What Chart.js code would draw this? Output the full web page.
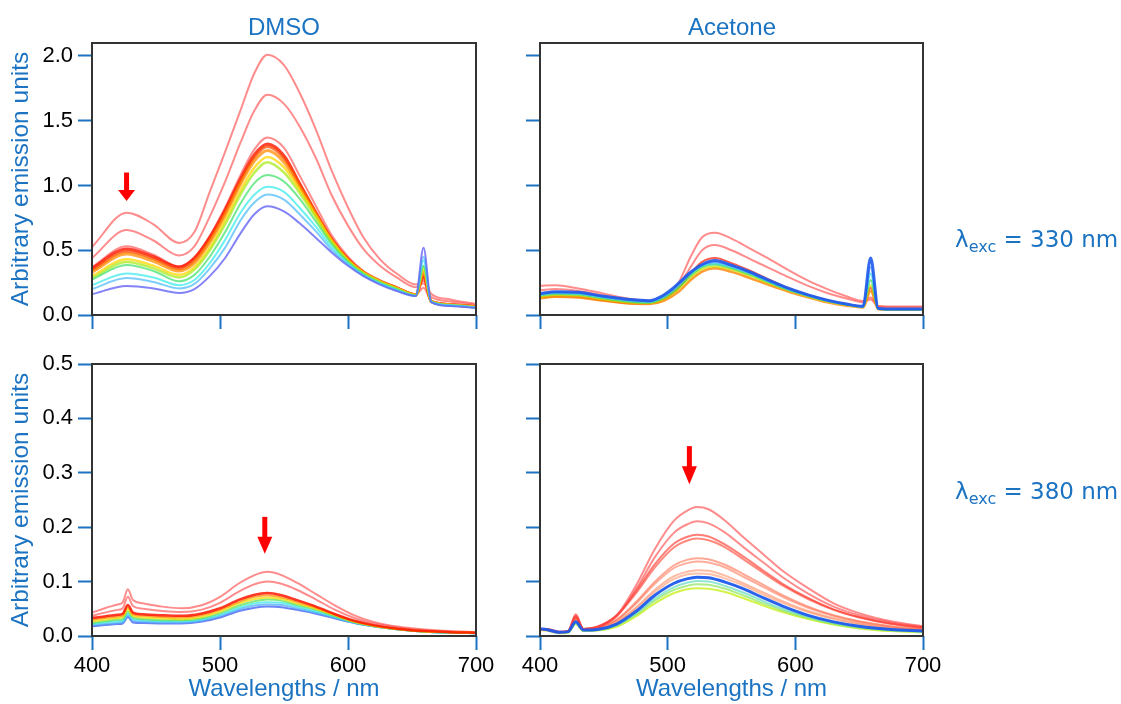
<!DOCTYPE html>
<html>
<head>
<meta charset="utf-8">
<script src="https://cdn.jsdelivr.net/npm/chart.js@4.4.1/dist/chart.umd.min.js"></script>
<style>
  body { margin: 0; background: #fff; }
  #page { position: relative; width: 1121px; height: 704px; overflow: hidden; font-family: "Liberation Sans", Arial, sans-serif; }
  #page canvas { position: absolute; left: 0; top: 0; }
  .head { position: absolute; color: #1b73c2; font-size: 24px; line-height: 1; transform: translate(-50%, -50%); white-space: nowrap; }
  .exc { position: absolute; color: #1b73c2; font-family: "DejaVu Sans", sans-serif; font-size: 23px; line-height: 1; transform: translateY(-50%); white-space: nowrap; }
  .exc sub { font-size: 16px; vertical-align: -5px; }
</style>
</head>
<body>
<div id="page">
  <canvas id="tl" width="1121" height="704"></canvas>
  <canvas id="tr" width="1121" height="704"></canvas>
  <canvas id="bl" width="1121" height="704"></canvas>
  <canvas id="br" width="1121" height="704"></canvas>
  <div class="head" style="left:284px; top:27px">DMSO</div>
  <div class="head" style="left:732px; top:27px">Acetone</div>
  <div class="exc" style="left:955px; top:241px">λ<sub>exc</sub> = 330 nm</div>
  <div class="exc" style="left:955px; top:493px">λ<sub>exc</sub> = 380 nm</div>
</div>
<script>
// axes
const xTicks = [400, 500, 600, 700];
const yTicks330 = [0, 0.5, 1.0, 1.5, 2.0];
const yTicks380 = [0, 0.1, 0.2, 0.3, 0.4, 0.5];

// DMSO, excitation 330 nm
const wlDmso330 = [400, 427, 448, 468, 480, 492, 504, 516, 527, 537, 550, 562, 575, 587, 600, 612, 625, 638, 653, 659, 665, 680, 700];
const dmso330_a = [0.525, 0.79, 0.70, 0.556, 0.64, 0.95, 1.26, 1.58, 1.87, 2.01, 1.93, 1.72, 1.43, 1.12, 0.83, 0.60, 0.43, 0.32, 0.235, 0.265, 0.165, 0.12, 0.085];
const dmso330_b = [0.44, 0.656, 0.575, 0.46, 0.53, 0.76, 1.03, 1.33, 1.58, 1.70, 1.63, 1.46, 1.21, 0.93, 0.69, 0.51, 0.38, 0.29, 0.215, 0.245, 0.14, 0.105, 0.077];
const dmso330_c = [0.37, 0.53, 0.465, 0.375, 0.445, 0.61, 0.83, 1.08, 1.28, 1.37, 1.29, 1.08, 0.84, 0.62, 0.45, 0.34, 0.27, 0.215, 0.16, 0.21, 0.11, 0.085, 0.066];
const dmso330_red = [0.36, 0.51, 0.45, 0.37, 0.44, 0.60, 0.81, 1.05, 1.24, 1.32, 1.23, 1.02, 0.79, 0.59, 0.43, 0.33, 0.26, 0.21, 0.155, 0.29, 0.105, 0.08, 0.062];
const dmso330_redorange = [0.345, 0.49, 0.435, 0.355, 0.42, 0.58, 0.79, 1.03, 1.22, 1.30, 1.21, 1.01, 0.785, 0.585, 0.43, 0.33, 0.26, 0.21, 0.155, 0.31, 0.105, 0.08, 0.062];
const dmso330_orange = [0.33, 0.47, 0.415, 0.34, 0.40, 0.56, 0.77, 1.01, 1.19, 1.27, 1.18, 0.99, 0.775, 0.58, 0.425, 0.33, 0.26, 0.208, 0.155, 0.33, 0.105, 0.078, 0.06];
const dmso330_yellow = [0.30, 0.43, 0.38, 0.31, 0.37, 0.52, 0.73, 0.96, 1.14, 1.22, 1.14, 0.97, 0.765, 0.575, 0.42, 0.325, 0.258, 0.206, 0.155, 0.35, 0.105, 0.078, 0.06];
const dmso330_ygreen = [0.285, 0.41, 0.36, 0.29, 0.35, 0.50, 0.70, 0.93, 1.10, 1.18, 1.10, 0.945, 0.75, 0.565, 0.415, 0.322, 0.255, 0.204, 0.152, 0.37, 0.104, 0.077, 0.06];
const dmso330_green = [0.275, 0.386, 0.34, 0.26, 0.31, 0.45, 0.64, 0.86, 1.02, 1.08, 1.03, 0.90, 0.72, 0.55, 0.41, 0.318, 0.25, 0.20, 0.15, 0.38, 0.103, 0.076, 0.058];
const dmso330_cyan = [0.23, 0.32, 0.29, 0.23, 0.27, 0.40, 0.58, 0.79, 0.93, 0.99, 0.95, 0.83, 0.68, 0.525, 0.40, 0.31, 0.245, 0.195, 0.148, 0.42, 0.102, 0.075, 0.057];
const dmso330_lightblue = [0.20, 0.285, 0.255, 0.205, 0.24, 0.36, 0.52, 0.73, 0.87, 0.93, 0.89, 0.78, 0.645, 0.505, 0.39, 0.305, 0.24, 0.19, 0.147, 0.45, 0.101, 0.074, 0.056];
const dmso330_purple = [0.16, 0.224, 0.205, 0.17, 0.20, 0.30, 0.44, 0.63, 0.78, 0.84, 0.80, 0.71, 0.595, 0.485, 0.38, 0.30, 0.235, 0.185, 0.147, 0.52, 0.10, 0.07, 0.054];

// Acetone, excitation 330 nm
const wlAcet330 = [400, 412, 430, 450, 470, 485, 497, 508, 518, 527, 537, 550, 565, 580, 595, 610, 625, 640, 653, 659, 665, 680, 700];
const acet330_a = [0.225, 0.23, 0.205, 0.165, 0.125, 0.11, 0.135, 0.24, 0.45, 0.60, 0.635, 0.59, 0.51, 0.43, 0.345, 0.265, 0.20, 0.145, 0.108, 0.135, 0.07, 0.065, 0.065];
const acet330_b = [0.19, 0.20, 0.185, 0.15, 0.115, 0.105, 0.13, 0.22, 0.37, 0.50, 0.54, 0.50, 0.43, 0.36, 0.29, 0.225, 0.17, 0.128, 0.098, 0.12, 0.065, 0.06, 0.06];
const acet330_blue = [0.165, 0.18, 0.175, 0.145, 0.12, 0.11, 0.155, 0.24, 0.33, 0.39, 0.42, 0.385, 0.33, 0.265, 0.205, 0.155, 0.115, 0.085, 0.068, 0.44, 0.05, 0.046, 0.046];
const acet330_lightblue = [0.16, 0.175, 0.17, 0.14, 0.115, 0.105, 0.148, 0.232, 0.325, 0.385, 0.41, 0.378, 0.325, 0.26, 0.20, 0.152, 0.112, 0.083, 0.066, 0.37, 0.049, 0.045, 0.045];
const acet330_cyan = [0.155, 0.17, 0.165, 0.135, 0.11, 0.10, 0.14, 0.225, 0.32, 0.38, 0.40, 0.37, 0.32, 0.255, 0.197, 0.15, 0.11, 0.082, 0.065, 0.32, 0.048, 0.044, 0.044];
const acet330_green = [0.15, 0.163, 0.158, 0.128, 0.103, 0.095, 0.132, 0.21, 0.305, 0.37, 0.39, 0.36, 0.31, 0.25, 0.193, 0.147, 0.108, 0.08, 0.064, 0.27, 0.047, 0.043, 0.043];
const acet330_yellow = [0.14, 0.153, 0.148, 0.12, 0.096, 0.09, 0.122, 0.195, 0.29, 0.355, 0.375, 0.35, 0.30, 0.243, 0.188, 0.143, 0.105, 0.078, 0.062, 0.23, 0.046, 0.042, 0.042];
const acet330_orange = [0.13, 0.14, 0.135, 0.11, 0.088, 0.085, 0.11, 0.175, 0.27, 0.335, 0.36, 0.333, 0.283, 0.23, 0.18, 0.137, 0.098, 0.072, 0.058, 0.185, 0.044, 0.04, 0.04];
const acet330_red = [0.135, 0.145, 0.14, 0.113, 0.09, 0.088, 0.12, 0.20, 0.32, 0.41, 0.44, 0.40, 0.34, 0.27, 0.205, 0.155, 0.115, 0.085, 0.068, 0.21, 0.05, 0.045, 0.045];

// DMSO, excitation 380 nm
const wlDmso380 = [400, 410, 420, 424, 428, 432, 440, 455, 470, 485, 500, 515, 527, 537, 548, 560, 575, 590, 605, 620, 640, 660, 680, 700];
const dmso380_a = [0.043, 0.051, 0.058, 0.062, 0.086, 0.066, 0.06, 0.054, 0.051, 0.056, 0.072, 0.097, 0.112, 0.118, 0.112, 0.098, 0.077, 0.056, 0.038, 0.026, 0.017, 0.012, 0.009, 0.007];
const dmso380_b = [0.037, 0.043, 0.048, 0.051, 0.072, 0.055, 0.05, 0.046, 0.044, 0.048, 0.061, 0.082, 0.095, 0.10, 0.096, 0.085, 0.067, 0.048, 0.033, 0.023, 0.015, 0.01, 0.008, 0.007];
const dmso380_red = [0.033, 0.036, 0.039, 0.041, 0.057, 0.043, 0.04, 0.038, 0.037, 0.041, 0.051, 0.067, 0.076, 0.079, 0.075, 0.066, 0.054, 0.04, 0.028, 0.02, 0.013, 0.009, 0.007, 0.006];
const dmso380_orange = [0.03, 0.033, 0.036, 0.038, 0.053, 0.04, 0.037, 0.035, 0.034, 0.038, 0.048, 0.063, 0.072, 0.075, 0.071, 0.063, 0.052, 0.039, 0.027, 0.019, 0.013, 0.009, 0.007, 0.006];
const dmso380_yellow = [0.027, 0.03, 0.033, 0.035, 0.049, 0.037, 0.034, 0.032, 0.031, 0.035, 0.045, 0.06, 0.068, 0.071, 0.068, 0.06, 0.05, 0.038, 0.026, 0.019, 0.012, 0.008, 0.007, 0.006];
const dmso380_green = [0.024, 0.027, 0.03, 0.031, 0.045, 0.034, 0.031, 0.029, 0.029, 0.032, 0.042, 0.056, 0.064, 0.067, 0.065, 0.057, 0.048, 0.036, 0.025, 0.018, 0.012, 0.008, 0.006, 0.005];
const dmso380_cyan = [0.022, 0.025, 0.027, 0.028, 0.041, 0.031, 0.029, 0.027, 0.027, 0.03, 0.039, 0.052, 0.06, 0.062, 0.061, 0.054, 0.045, 0.035, 0.025, 0.018, 0.012, 0.008, 0.006, 0.005];
const dmso380_lightblue = [0.02, 0.022, 0.024, 0.025, 0.038, 0.028, 0.026, 0.025, 0.025, 0.028, 0.037, 0.049, 0.056, 0.058, 0.057, 0.051, 0.043, 0.033, 0.024, 0.018, 0.012, 0.008, 0.006, 0.005];
const dmso380_blue = [0.018, 0.02, 0.022, 0.023, 0.035, 0.025, 0.024, 0.023, 0.023, 0.026, 0.034, 0.046, 0.052, 0.054, 0.053, 0.048, 0.041, 0.032, 0.024, 0.018, 0.012, 0.008, 0.006, 0.005];

// Acetone, excitation 380 nm
const wlAcet380 = [400, 405, 415, 422, 428, 434, 445, 460, 475, 490, 505, 515, 523, 532, 545, 560, 575, 590, 610, 630, 650, 675, 700];
const acet380_a = [0.013, 0.013, 0.008, 0.009, 0.04, 0.013, 0.016, 0.038, 0.092, 0.16, 0.212, 0.23, 0.237, 0.233, 0.212, 0.18, 0.15, 0.12, 0.088, 0.06, 0.042, 0.027, 0.018];
const acet380_b = [0.013, 0.013, 0.008, 0.009, 0.038, 0.013, 0.016, 0.036, 0.085, 0.145, 0.19, 0.205, 0.211, 0.207, 0.19, 0.162, 0.135, 0.108, 0.078, 0.054, 0.038, 0.025, 0.017];
const acet380_c = [0.013, 0.012, 0.007, 0.009, 0.036, 0.013, 0.017, 0.038, 0.082, 0.132, 0.17, 0.182, 0.186, 0.183, 0.168, 0.145, 0.12, 0.096, 0.07, 0.049, 0.035, 0.023, 0.016];
const acet380_d = [0.013, 0.012, 0.007, 0.009, 0.035, 0.013, 0.017, 0.037, 0.078, 0.126, 0.163, 0.175, 0.179, 0.176, 0.163, 0.14, 0.116, 0.093, 0.068, 0.048, 0.034, 0.022, 0.015];
const acet380_e = [0.012, 0.011, 0.007, 0.008, 0.033, 0.012, 0.015, 0.03, 0.062, 0.10, 0.13, 0.14, 0.143, 0.141, 0.131, 0.113, 0.094, 0.075, 0.054, 0.038, 0.027, 0.018, 0.013];
const acet380_f = [0.012, 0.011, 0.007, 0.008, 0.032, 0.012, 0.015, 0.029, 0.059, 0.096, 0.125, 0.134, 0.137, 0.135, 0.126, 0.108, 0.09, 0.072, 0.052, 0.037, 0.026, 0.017, 0.012];
const acet380_g = [0.012, 0.011, 0.007, 0.008, 0.031, 0.012, 0.014, 0.026, 0.052, 0.085, 0.11, 0.118, 0.121, 0.12, 0.111, 0.096, 0.08, 0.064, 0.046, 0.033, 0.023, 0.015, 0.011];
const acet380_h = [0.012, 0.011, 0.007, 0.008, 0.03, 0.012, 0.014, 0.025, 0.05, 0.081, 0.105, 0.113, 0.115, 0.114, 0.106, 0.092, 0.076, 0.061, 0.044, 0.031, 0.022, 0.014, 0.01];
const acet380_blue = [0.013, 0.012, 0.007, 0.008, 0.026, 0.011, 0.012, 0.022, 0.045, 0.075, 0.097, 0.105, 0.108, 0.107, 0.099, 0.086, 0.07, 0.055, 0.038, 0.026, 0.018, 0.012, 0.009];
const acet380_cyan = [0.012, 0.011, 0.006, 0.007, 0.024, 0.01, 0.011, 0.02, 0.041, 0.069, 0.09, 0.098, 0.101, 0.10, 0.092, 0.079, 0.064, 0.05, 0.035, 0.024, 0.016, 0.011, 0.008];
const acet380_green = [0.012, 0.011, 0.006, 0.007, 0.023, 0.01, 0.011, 0.019, 0.039, 0.065, 0.085, 0.092, 0.095, 0.094, 0.087, 0.074, 0.06, 0.047, 0.033, 0.022, 0.015, 0.01, 0.008];
const acet380_ygreen = [0.011, 0.01, 0.005, 0.006, 0.022, 0.009, 0.01, 0.017, 0.036, 0.06, 0.079, 0.086, 0.088, 0.087, 0.081, 0.069, 0.056, 0.044, 0.031, 0.021, 0.014, 0.009, 0.007];

// arrows: [wavelength, tail value, tip value]
const arrowDmso330 = [427, 1.10, 0.88];
const arrowDmso380 = [535, 0.219, 0.151];
const arrowAcet380 = [517, 0.349, 0.279];

const BLUE = "#1b73c2";
const FONT = "'Liberation Sans', Arial, sans-serif";
const PAGE_W = 1121, PAGE_H = 704;

// pale red for the first spectra
const PALE = "rgba(255,70,70,0.62)";

// box around the plot area
const framePlugin = {
  id: "frame",
  afterDraw(chart) {
    const { ctx, chartArea: a } = chart;
    ctx.save();
    ctx.strokeStyle = "#333";
    ctx.lineWidth = 2;
    ctx.strokeRect(a.left, a.top, a.right - a.left, a.bottom - a.top);
    ctx.restore();
  }
};

// red down arrow placed in data units
const arrowPlugin = {
  id: "arrow",
  afterDatasetsDraw(chart, args, opts) {
    if (!opts.at) return;
    const { ctx, scales } = chart;
    const x = scales.x.getPixelForValue(opts.at[0]);
    const yTail = scales.y.getPixelForValue(opts.at[1]);
    const yTip = scales.y.getPixelForValue(opts.at[2]);
    const head = opts.head, hw = opts.headWidth / 2, sw = 2.5;
    ctx.save();
    ctx.fillStyle = "#ff0000";
    ctx.fillRect(x - sw, yTail, sw * 2, yTip - yTail - head + 1);
    ctx.beginPath();
    ctx.moveTo(x - hw, yTip - head);
    ctx.lineTo(x + hw, yTip - head);
    ctx.lineTo(x, yTip);
    ctx.closePath();
    ctx.fill();
    ctx.restore();
  }
};

function makeChart(id, wl, curves, o) {
  const tickGrid = { display: true, drawOnChartArea: false, drawTicks: true, tickLength: 14, tickWidth: 2, tickColor: BLUE };
  new Chart(document.getElementById(id), {
    type: "line",
    data: {
      datasets: curves.map(c => ({
        data: c[0].map((v, i) => ({ x: wl[i], y: v })),
        borderColor: c[1],
        borderWidth: c[2] || 2,
        pointRadius: 0,
        fill: false,
        cubicInterpolationMode: "monotone"
      }))
    },
    options: {
      responsive: false,
      animation: false,
      events: [],
      layout: { padding: { left: 0, top: o.top, right: PAGE_W - o.right, bottom: 0 } },
      plugins: {
        legend: { display: false },
        tooltip: { enabled: false },
        arrow: { at: o.arrow, head: o.head || 12, headWidth: o.headWidth || 16 }
      },
      scales: {
        x: {
          type: "linear", min: 400, max: 700, bounds: "data",
          afterBuildTicks: s => { s.ticks = xTicks.map(v => ({ value: v })); },
          afterFit: s => { s.height = PAGE_H - o.bottom; },
          grid: tickGrid,
          border: { display: false },
          ticks: { display: o.xLabels, color: "#000", font: { family: FONT, size: 22 }, padding: 3, maxRotation: 0 },
          title: { display: o.xLabels, text: "Wavelengths / nm", color: BLUE, font: { family: FONT, size: 24 }, padding: { top: 0, bottom: 0 } }
        },
        y: {
          type: "linear", min: 0, max: o.yMax, bounds: "data",
          afterBuildTicks: s => { s.ticks = o.yTicks.map(v => ({ value: v })); },
          afterFit: s => { s.width = o.left; },
          grid: tickGrid,
          border: { display: false },
          ticks: { display: o.yLabels, color: "#000", font: { family: FONT, size: 22 }, padding: 5, callback: v => v.toFixed(1) },
          title: { display: o.yLabels, text: "Arbitrary emission units", color: BLUE, font: { family: FONT, size: 24.5 }, padding: { top: 7, bottom: 0 } }
        }
      }
    },
    plugins: [framePlugin, arrowPlugin]
  });
}

// first dataset is drawn on top
makeChart("tl", wlDmso330, [
  [dmso330_purple, "rgba(100,100,245,0.8)"],
  [dmso330_lightblue, "rgba(80,190,250,0.75)"],
  [dmso330_cyan, "rgba(60,235,235,0.75)"],
  [dmso330_green, "rgba(70,225,110,0.75)"],
  [dmso330_ygreen, "rgba(170,235,30,0.75)", 2.5],
  [dmso330_yellow, "rgba(255,215,0,0.75)", 2.5],
  [dmso330_orange, "rgba(255,140,0,0.75)", 3],
  [dmso330_redorange, "rgba(255,70,0,0.75)", 3],
  [dmso330_red, "rgba(255,20,0,0.8)", 3],
  [dmso330_c, PALE],
  [dmso330_b, PALE],
  [dmso330_a, PALE]
], { top: 43, bottom: 315, left: 92, right: 476, yMax: 2.1, yTicks: yTicks330, yLabels: true, xLabels: false, arrow: arrowDmso330, head: 11, headWidth: 17 });

makeChart("tr", wlAcet330, [
  [acet330_blue, "rgba(30,90,235,0.9)", 3],
  [acet330_lightblue, "rgba(90,150,250,0.75)"],
  [acet330_cyan, "rgba(50,220,230,0.75)"],
  [acet330_green, "rgba(60,215,90,0.75)"],
  [acet330_yellow, "rgba(200,225,0,0.75)"],
  [acet330_orange, "rgba(255,130,0,0.8)", 2.5],
  [acet330_red, "rgba(255,40,20,0.75)"],
  [acet330_b, PALE],
  [acet330_a, PALE]
], { top: 43, bottom: 315, left: 540, right: 923, yMax: 2.1, yTicks: yTicks330, yLabels: false, xLabels: false });

makeChart("bl", wlDmso380, [
  [dmso380_red, "rgba(255,20,0,0.85)", 2.5],
  [dmso380_orange, "rgba(255,140,0,0.75)"],
  [dmso380_yellow, "rgba(240,220,0,0.75)"],
  [dmso380_green, "rgba(90,225,90,0.75)"],
  [dmso380_cyan, "rgba(60,230,230,0.75)"],
  [dmso380_lightblue, "rgba(80,170,250,0.75)"],
  [dmso380_blue, "rgba(70,100,240,0.8)"],
  [dmso380_b, PALE],
  [dmso380_a, PALE]
], { top: 364, bottom: 636, left: 92, right: 476, yMax: 0.5, yTicks: yTicks380, yLabels: true, xLabels: true, arrow: arrowDmso380, head: 17, headWidth: 15 });

makeChart("br", wlAcet380, [
  [acet380_blue, "rgba(30,90,235,0.95)", 3],
  [acet380_a, PALE],
  [acet380_b, PALE],
  [acet380_c, "rgba(255,40,30,0.6)"],
  [acet380_d, "rgba(255,60,40,0.6)"],
  [acet380_e, "rgba(255,110,80,0.6)"],
  [acet380_f, "rgba(255,120,90,0.6)"],
  [acet380_g, "rgba(255,140,100,0.6)"],
  [acet380_h, "rgba(255,150,110,0.6)"],
  [acet380_cyan, "rgba(100,220,190,0.7)"],
  [acet380_green, "rgba(140,230,90,0.7)"],
  [acet380_ygreen, "rgba(200,240,30,0.8)"]
], { top: 364, bottom: 636, left: 540, right: 923, yMax: 0.5, yTicks: yTicks380, yLabels: false, xLabels: true, arrow: arrowAcet380, head: 18, headWidth: 15 });
</script>
</body>
</html>
